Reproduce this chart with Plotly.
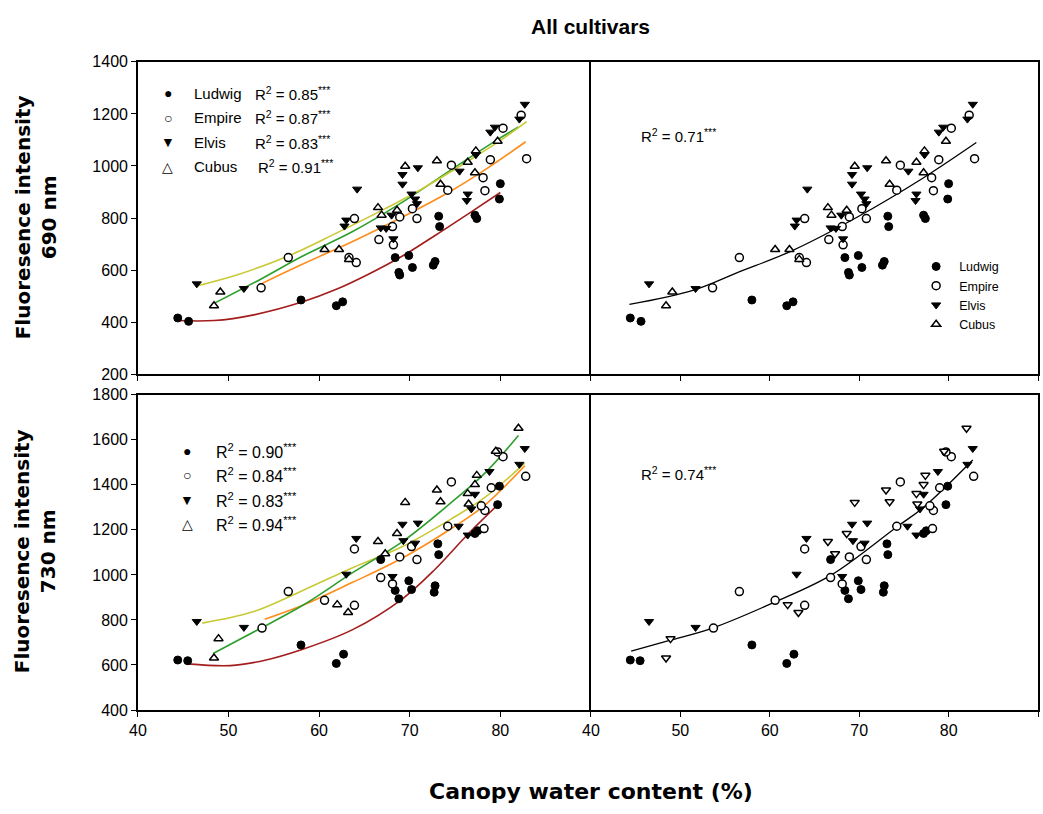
import plotly.graph_objects as go

W, H = 1043, 814

# ---------------- 690 nm scatter data ----------------
lud690_x = [44.4, 45.6, 58.0, 61.9, 62.6, 68.4, 68.8, 68.9, 69.9, 70.3, 72.6, 72.8, 73.2, 73.3, 77.2, 77.4, 79.9, 80.0]
lud690_y = [416, 403, 485, 463, 478, 648, 591, 581, 656, 610, 619, 633, 807, 767, 811, 798, 873, 932]
emp690_x = [53.6, 56.6, 63.9, 63.3, 64.1, 66.6, 68.1, 68.2, 70.3, 70.8, 68.9, 74.2, 74.6, 78.1, 78.3, 80.3, 78.9, 82.9, 82.3]
emp690_y = [532, 648, 798, 648, 629, 717, 767, 697, 836, 798, 804, 907, 1003, 955, 905, 1145, 1024, 1028, 1195]
elv690_x = [46.5, 51.7, 64.2, 62.8, 63.0, 69.2, 70.9, 69.2, 70.2, 70.6, 70.8, 68.0, 66.8, 67.4, 68.2, 75.5, 76.4, 76.3, 77.3, 78.9, 79.4, 82.7, 82.1]
elv690_y = [547, 529, 911, 769, 792, 967, 993, 930, 892, 873, 855, 811, 762, 760, 720, 980, 892, 867, 1043, 1130, 1149, 1237, 1180]
cub690_x = [48.4, 49.1, 60.6, 62.2, 63.3, 66.5, 66.9, 68.6, 69.5, 73.0, 73.4, 76.4, 77.3, 77.2, 79.7]
cub690_y = [463, 516, 679, 679, 641, 840, 811, 830, 999, 1020, 930, 1014, 1058, 974, 1095]

# ---------------- 730 nm scatter data ----------------
lud730_x = [44.4, 45.5, 58.0, 61.9, 62.7, 66.8, 68.8, 68.4, 69.9, 70.2, 72.8, 72.7, 73.1, 73.2, 77.2, 77.5, 79.7, 79.9]
lud730_y = [622, 619, 689, 607, 648, 1068, 894, 931, 974, 935, 952, 923, 1138, 1090, 1184, 1196, 1312, 1394]
emp730_x = [53.7, 56.6, 60.6, 63.9, 66.8, 63.9, 68.1, 68.9, 70.8, 70.2, 74.2, 74.6, 78.2, 78.3, 77.9, 80.3, 79.7, 82.8, 79.0]
emp730_y = [764, 926, 887, 1115, 988, 865, 960, 1080, 1068, 1126, 1216, 1413, 1206, 1286, 1307, 1525, 1546, 1438, 1387]
elv730_x = [46.5, 51.7, 63.0, 64.1, 68.1, 69.2, 70.9, 69.3, 70.6, 75.4, 76.4, 77.2, 78.8, 82.1, 82.7, 76.8]
elv730_y = [793, 767, 1003, 1162, 993, 1225, 1230, 1152, 1141, 1216, 1177, 1358, 1459, 1491, 1561, 1293]
cub730_x = [48.4, 48.9, 62.0, 63.2, 66.5, 68.6, 69.5, 73.0, 73.4, 76.4, 77.4, 77.2, 76.5, 82.0, 79.5, 67.3]
cub730_y = [631, 717, 868, 833, 1148, 1184, 1322, 1377, 1325, 1361, 1442, 1401, 1315, 1651, 1549, 1094]

# ---------------- fitted curves ----------------
fit690_lud_x = [44.2, 48.4, 52.8, 58.2, 61.9, 65.5, 69.2, 72.8, 76.5, 80.0]
fit690_lud_y = [406, 406, 428, 478, 526, 585, 654, 733, 817, 898]
fit690_emp_x = [53.6, 58.2, 63.7, 69.2, 74.6, 78.3, 82.8]
fit690_emp_y = [547, 623, 710, 804, 905, 985, 1093]
fit690_elv_x = [46.5, 50.9, 56.6, 61.9, 67.3, 71.0, 76.5, 80.1, 82.9]
fit690_elv_y = [539, 581, 654, 742, 836, 905, 1020, 1100, 1170]
fit690_cub_x = [48.4, 53.6, 58.2, 63.7, 69.2, 74.6, 79.6, 82.0]
fit690_cub_y = [472, 566, 654, 748, 861, 986, 1099, 1150]
fit690_all_x = [44.3, 51.4, 56.5, 62.4, 69.8, 77.2, 83.1]
fit690_all_y = [468, 522, 592, 673, 804, 955, 1090]

fit730_lud_x = [45.5, 50.2, 53.8, 58.2, 63.7, 69.2, 72.8, 76.5, 80.0]
fit730_lud_y = [605, 597, 619, 670, 757, 894, 1025, 1184, 1322]
fit730_emp_x = [54.0, 58.2, 63.7, 69.2, 74.6, 78.3, 82.7]
fit730_emp_y = [803, 865, 967, 1075, 1206, 1310, 1485]
fit730_elv_x = [47.1, 52.7, 58.2, 63.7, 69.2, 74.6, 78.3, 82.7]
fit730_elv_y = [786, 836, 931, 1032, 1126, 1249, 1344, 1496]
fit730_cub_x = [48.3, 53.6, 58.2, 63.7, 69.2, 74.6, 78.3, 82.0]
fit730_cub_y = [651, 764, 865, 1010, 1148, 1322, 1452, 1619]
fit730_all_x = [44.5, 48.8, 53.6, 60.6, 66.9, 74.2, 77.2, 82.7]
fit730_all_y = [662, 709, 764, 880, 1000, 1213, 1300, 1510]

cultivars = ["Ludwig", "Empire", "Elvis", "Cubus"]
r2_690 = ["0.85", "0.87", "0.83", "0.91"]
r2_730 = ["0.90", "0.84", "0.83", "0.94"]
r2_all = ["0.71", "0.74"]
x_ticks_left = [40, 50, 60, 70, 80]
x_ticks_right = [40, 50, 60, 70, 80, 90]

FONT = "Liberation Sans, Arial, sans-serif"
TITLE_FONT = "DejaVu Sans, Liberation Sans, sans-serif"
fit_colors = {"Ludwig": "#a31d1d", "Empire": "#ff8c1a", "Elvis": "#c9c936", "Cubus": "#2e9e2e"}
sym = {
    "Ludwig": dict(symbol="circle", color="black", line=dict(color="black", width=1)),
    "Empire": dict(symbol="circle", color="white", line=dict(color="black", width=1.5)),
    "Elvis": dict(symbol="triangle-down", color="black", line=dict(color="black", width=1)),
    "Cubus": dict(symbol="triangle-up", color="white", line=dict(color="black", width=1.5)),
}

data690 = {"Ludwig": (lud690_x, lud690_y), "Empire": (emp690_x, emp690_y),
           "Elvis": (elv690_x, elv690_y), "Cubus": (cub690_x, cub690_y)}
data730 = {"Ludwig": (lud730_x, lud730_y), "Empire": (emp730_x, emp730_y),
           "Elvis": (elv730_x, elv730_y), "Cubus": (cub730_x, cub730_y)}
fits690 = {"Ludwig": (fit690_lud_x, fit690_lud_y), "Empire": (fit690_emp_x, fit690_emp_y),
           "Elvis": (fit690_elv_x, fit690_elv_y), "Cubus": (fit690_cub_x, fit690_cub_y)}
fits730 = {"Ludwig": (fit730_lud_x, fit730_lud_y), "Empire": (fit730_emp_x, fit730_emp_y),
           "Elvis": (fit730_elv_x, fit730_elv_y), "Cubus": (fit730_cub_x, fit730_cub_y)}

fig = go.Figure()

def add_points(data, xa, ya, legend=False, bottom_right=False):
    for c in cultivars:
        m = dict(sym[c])
        if bottom_right and c == "Cubus":
            m["symbol"] = "triangle-down"
        fig.add_trace(go.Scatter(
            x=data[c][0], y=data[c][1], mode="markers", name=c,
            marker=dict(size=8, symbol=m["symbol"], color=m["color"], line=m["line"]),
            xaxis=xa, yaxis=ya, showlegend=legend, hoverinfo="skip"))

def add_fit(x, y, color, xa, ya, width=1.6):
    fig.add_trace(go.Scatter(
        x=x, y=y, mode="lines", line=dict(color=color, width=width, shape="spline", smoothing=1.0),
        xaxis=xa, yaxis=ya, showlegend=False, hoverinfo="skip"))

# top-left
for c in ["Ludwig", "Empire", "Cubus", "Elvis"]:
    add_fit(*fits690[c], fit_colors[c], "x", "y")
add_points(data690, "x", "y")
# top-right
add_fit(fit690_all_x, fit690_all_y, "black", "x2", "y2", 1.3)
add_points(data690, "x2", "y2", legend=True)
# bottom-left
for c in ["Ludwig", "Empire", "Elvis", "Cubus"]:
    add_fit(*fits730[c], fit_colors[c], "x3", "y3")
add_points(data730, "x3", "y3")
# bottom-right
add_fit(fit730_all_x, fit730_all_y, "black", "x4", "y4", 1.3)
add_points(data730, "x4", "y4", bottom_right=True)

def px(x):
    return x / W

def py(y):
    return 1 - y / H

xl = [px(130), px(587)]
xr = [px(587), px(1038)]
yt = [py(374), py(55)]
yb = [py(717), py(395)]

axis_common = dict(showline=True, linecolor="black", linewidth=1.5, mirror=True,
                   showgrid=False, zeroline=False, ticks="outside", ticklen=5,
                   tickcolor="black", tickwidth=1.3,
                   tickfont=dict(family=FONT, size=16, color="black"))
left_y = {**axis_common, "mirror": False}
right_y = {**axis_common, "ticks": "", "showticklabels": False}

fig.update_layout(
    width=W, height=H, margin=dict(l=0, r=0, t=0, b=0),
    paper_bgcolor="white", plot_bgcolor="white",
    xaxis=dict(domain=xl, range=[40, 90], tickvals=x_ticks_left, showticklabels=False, anchor="y", **axis_common),
    yaxis=dict(domain=yt, range=[200, 1400], dtick=200, anchor="x", **left_y),
    xaxis2=dict(domain=xr, range=[40, 90], tickvals=x_ticks_right, showticklabels=False, anchor="y2", **axis_common),
    yaxis2=dict(domain=yt, range=[200, 1400], anchor="x2", **right_y),
    xaxis3=dict(domain=xl, range=[40, 90], tickvals=x_ticks_left, anchor="y3", **axis_common),
    yaxis3=dict(domain=yb, range=[400, 1800], dtick=200, anchor="x3", **left_y),
    xaxis4=dict(domain=xr, range=[40, 90], tickvals=x_ticks_right, anchor="y4", **axis_common),
    yaxis4=dict(domain=yb, range=[400, 1800], anchor="x4", **right_y),
    legend=dict(x=px(912), y=py(249), xanchor="left", yanchor="top",
                font=dict(family=FONT, size=12.5, color="black"),
                bgcolor="rgba(0,0,0,0)", tracegroupgap=0, itemwidth=36),
    showlegend=True,
)

ann = []
def text(x, y, s, size=14, bold=False, xanchor="left", angle=0, family=FONT):
    if bold:
        s = "<b>" + s + "</b>"
    ann.append(dict(x=px(x), y=py(y), xref="paper", yref="paper", text=s, showarrow=False,
                    xanchor=xanchor, yanchor="middle", textangle=angle,
                    font=dict(family=family, size=size, color="black")))

# titles
text(587, 19, "All cultivars", size=21, bold=True, xanchor="center")
text(587, 800, "Canopy water content (%)", size=22, bold=True, xanchor="center", family=TITLE_FONT)
text(27, 214, "Fluoresence intensity<br>690 nm", size=20, bold=True, xanchor="center", angle=-90, family=TITLE_FONT)
text(27, 555, "Fluoresence intensity<br>730 nm", size=20, bold=True, xanchor="center", angle=-90, family=TITLE_FONT)

symbols_txt = {"Ludwig": "●", "Empire": "○", "Elvis": "▼", "Cubus": "△"}

# top-left legend
rows_tl = [87, 112, 137, 162]
r2x_tl = [246, 246, 246, 249]
for c, r2, yy, rx in zip(cultivars, r2_690, rows_tl, r2x_tl):
    text(160, yy, symbols_txt[c], size=14, xanchor="center")
    text(185, yy, c, size=15)
    text(rx, yy, "R<sup>2</sup> = " + r2 + "<sup>***</sup>", size=15)

# bottom-left legend
rows_bl = [452, 477, 502, 527]
for c, r2, yy in zip(cultivars, r2_730, rows_bl):
    text(180, yy, symbols_txt[c], size=14, xanchor="center")
    text(207, yy, "R<sup>2</sup> = " + r2 + "<sup>***</sup>", size=16)

# pooled R2
text(635, 130, "R<sup>2</sup> = " + r2_all[0] + "<sup>***</sup>", size=15)
text(635, 475, "R<sup>2</sup> = " + r2_all[1] + "<sup>***</sup>", size=15)

fig.update_layout(annotations=ann)

fig.write_html("out.html")
